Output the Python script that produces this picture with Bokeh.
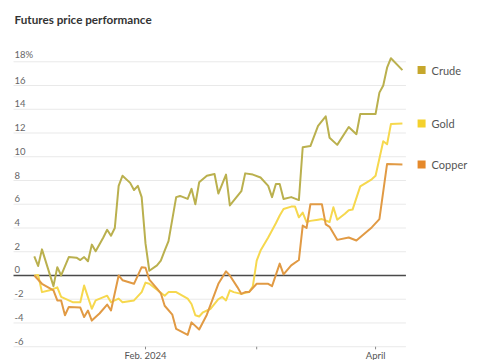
import pandas as pd
from bokeh.plotting import figure
from bokeh.models import Range1d
from bokeh.core.properties import value
from bokeh.embed import file_html
from bokeh.resources import INLINE

# ---------------- data ----------------
title_text = "Futures price performance"
series_names = ["Crude", "Gold", "Copper"]

crude_dates = ["2024-01-03", "2024-01-04", "2024-01-05", "2024-01-08", "2024-01-09", "2024-01-10",
               "2024-01-12", "2024-01-14", "2024-01-15", "2024-01-16", "2024-01-17", "2024-01-18",
               "2024-01-19", "2024-01-21", "2024-01-22", "2024-01-23", "2024-01-24", "2024-01-25",
               "2024-01-26", "2024-01-28", "2024-01-29", "2024-01-30", "2024-01-31", "2024-02-01",
               "2024-02-02", "2024-02-04", "2024-02-05", "2024-02-06", "2024-02-07", "2024-02-09",
               "2024-02-10", "2024-02-12", "2024-02-13", "2024-02-14", "2024-02-15", "2024-02-17",
               "2024-02-19", "2024-02-20", "2024-02-22", "2024-02-23", "2024-02-26", "2024-02-27",
               "2024-02-29", "2024-03-02", "2024-03-04", "2024-03-05", "2024-03-06", "2024-03-07",
               "2024-03-08", "2024-03-10", "2024-03-12", "2024-03-13", "2024-03-15", "2024-03-17",
               "2024-03-19", "2024-03-20", "2024-03-22", "2024-03-25", "2024-03-27", "2024-03-28",
               "2024-04-01", "2024-04-02", "2024-04-03", "2024-04-04", "2024-04-05", "2024-04-08"]
crude_values = [1.6, 0.8, 2.2, -0.9, 0.7, 0.0,
                1.55, 1.5, 1.3, 1.55, 1.2, 2.6,
                2.05, 3.2, 3.85, 3.35, 4.0, 7.55,
                8.4, 7.8, 7.2, 7.55, 6.6, 2.7,
                0.4, 0.85, 1.25, 2.1, 2.9, 6.6,
                6.7, 6.45, 7.3, 6.0, 7.85, 8.4,
                8.55, 6.9, 8.5, 5.9, 7.1, 8.6,
                8.5, 8.25, 7.55, 6.6, 7.7, 7.7,
                6.45, 6.6, 6.35, 10.8, 10.9, 12.6,
                13.4, 11.6, 11.0, 12.5, 11.9, 13.6,
                13.6, 15.4, 16.0, 17.5, 18.3, 17.3]

gold_dates = ["2024-01-03", "2024-01-04", "2024-01-05", "2024-01-07", "2024-01-09", "2024-01-10",
              "2024-01-13", "2024-01-15", "2024-01-16", "2024-01-18", "2024-01-19", "2024-01-22",
              "2024-01-23", "2024-01-25", "2024-01-26", "2024-01-29", "2024-01-31", "2024-02-01",
              "2024-02-02", "2024-02-04", "2024-02-06", "2024-02-07", "2024-02-09", "2024-02-12",
              "2024-02-13", "2024-02-14", "2024-02-15", "2024-02-16", "2024-02-18", "2024-02-20",
              "2024-02-21", "2024-02-22", "2024-02-23", "2024-02-24", "2024-02-26", "2024-02-28",
              "2024-02-29", "2024-03-01", "2024-03-02", "2024-03-04", "2024-03-06", "2024-03-07",
              "2024-03-08", "2024-03-10", "2024-03-11", "2024-03-12", "2024-03-13", "2024-03-14",
              "2024-03-15", "2024-03-17", "2024-03-18", "2024-03-20", "2024-03-21", "2024-03-22",
              "2024-03-24", "2024-03-25", "2024-03-26", "2024-03-28", "2024-03-31", "2024-04-01",
              "2024-04-03", "2024-04-04", "2024-04-05", "2024-04-08"]
gold_values = [0.0, 0.05, -1.4, -1.25, -1.0, -1.8,
               -2.25, -2.25, -0.85, -2.8, -2.1, -1.7,
               -2.25, -1.95, -2.25, -2.1, -1.4, -0.6,
               -0.7, -1.2, -1.7, -1.4, -1.4, -1.95,
               -2.4, -3.35, -3.45, -3.1, -2.8, -2.0,
               -1.8, -2.1, -1.25, -1.4, -1.55, -1.4,
               -0.9, 1.25, 2.1, 3.2, 4.4, 5.05,
               5.6, 5.8, 5.8, 4.9, 5.3, 4.5,
               4.6, 4.7, 4.75, 4.5, 5.75, 4.7,
               5.2, 5.5, 5.55, 7.5, 8.1, 8.4,
               11.3, 11.05, 12.75, 12.8]

copper_dates = ["2024-01-03", "2024-01-05", "2024-01-08", "2024-01-09", "2024-01-10", "2024-01-11",
                "2024-01-12", "2024-01-15", "2024-01-16", "2024-01-17", "2024-01-18", "2024-01-20",
                "2024-01-22", "2024-01-23", "2024-01-25", "2024-01-26", "2024-01-29", "2024-01-31",
                "2024-02-01", "2024-02-02", "2024-02-04", "2024-02-05", "2024-02-06", "2024-02-08",
                "2024-02-09", "2024-02-12", "2024-02-13", "2024-02-15", "2024-02-17", "2024-02-20",
                "2024-02-22", "2024-02-23", "2024-02-25", "2024-02-26", "2024-02-27", "2024-02-28",
                "2024-03-01", "2024-03-04", "2024-03-05", "2024-03-07", "2024-03-08", "2024-03-10",
                "2024-03-12", "2024-03-13", "2024-03-14", "2024-03-15", "2024-03-18", "2024-03-19",
                "2024-03-20", "2024-03-22", "2024-03-25", "2024-03-27", "2024-03-31", "2024-04-02",
                "2024-04-04", "2024-04-08"]
copper_values = [0.0, -0.7, -1.25, -2.1, -2.1, -3.35,
                 -2.65, -2.7, -3.5, -2.95, -3.8, -3.2,
                 -2.45, -2.95, 0.0, -0.4, -0.7, 0.7,
                 0.65, -0.35, -1.1, -1.5, -2.55, -3.3,
                 -4.5, -5.0, -3.95, -4.55, -3.3, -0.7,
                 0.35, 0.0, -1.0, -1.55, -1.4, -1.4,
                 -0.7, -0.7, -0.9, 1.0, 0.1, 0.85,
                 1.3, 4.2, 4.0, 6.0, 6.0, 4.3,
                 4.1, 3.0, 3.2, 2.95, 4.05, 4.75,
                 9.4, 9.35]

y_ticks = [-6, -4, -2, 0, 2, 4, 6, 8, 10, 12, 14, 16, 18]
y_tick_labels = ["-6", "-4", "-2", "0", "2", "4", "6", "8", "10", "12", "14", "16", "18%"]
x_tick_dates = ["2024-02-01", "2024-03-01", "2024-04-01"]
x_tick_labels = ["Feb. 2024", "", "April"]

# ---------------- styling / layout ----------------
line_colors = ["#bab04e", "#f6d84e", "#e19a44"]
legend_colors = ["#c6a72c", "#f4d12c", "#e5892b"]
FONT = "Lato"

x_start = pd.Timestamp("2023-12-25 04:30")
x_end = pd.Timestamp("2024-04-29 16:00")
grid_x0 = pd.Timestamp("2023-12-28 14:00")
grid_x1 = pd.Timestamp("2024-04-08 22:00")
legend_x = pd.Timestamp("2024-04-13 00:00")
y_lo, y_hi = -7.16, 23.16
title_y = 21.64

p = figure(width=485, height=360, x_axis_type="datetime",
           x_range=Range1d(x_start, x_end), y_range=Range1d(y_lo, y_hi),
           x_axis_location=None, y_axis_location=None,
           min_border=0, output_backend="svg", toolbar_location=None)
p.grid.visible = False
p.outline_line_color = None
p.background_fill_color = "white"
p.border_fill_color = "white"

# gridlines
grid_vals = [t for t in y_ticks if t != 0]
p.segment(x0=[grid_x0] * len(grid_vals), x1=[grid_x1] * len(grid_vals),
          y0=grid_vals, y1=grid_vals, line_color="#e9e9e9", line_width=1)
# zero line
p.segment(x0=[grid_x0], x1=[grid_x1], y0=[0], y1=[0], line_color="#4a4a4a", line_width=1.3)

# y tick labels (above gridlines)
p.text(x=[grid_x0] * len(y_ticks), y=y_ticks, text=y_tick_labels,
       x_offset=1, y_offset=-2, text_baseline="bottom", text_align="left",
       text_font=value(FONT), text_font_size="9.5px", text_color="#666666")

# x ticks and labels
xt = [pd.Timestamp(d) for d in x_tick_dates]
p.segment(x0=xt, x1=xt, y0=[y_ticks[0]] * 3, y1=[y_ticks[0] - 0.22] * 3,
          line_color="#888888", line_width=1)
p.text(x=xt, y=[y_ticks[0]] * 3, text=x_tick_labels, y_offset=3,
       text_baseline="top", text_align="center",
       text_font=value(FONT), text_font_size="9.5px", text_color="#555555")

# series lines
all_dates = [crude_dates, gold_dates, copper_dates]
all_values = [crude_values, gold_values, copper_values]
for idx in [1, 2, 0]:
    p.line(x=pd.to_datetime(all_dates[idx]), y=all_values[idx],
           line_color=line_colors[idx], line_width=2, line_join="round")

# legend at series end values
ends = [v[-1] for v in all_values]
p.scatter(x=[legend_x] * 3, y=ends, marker="square", size=8,
          fill_color=legend_colors, line_color=None)
p.text(x=[legend_x] * 3, y=ends, text=series_names, x_offset=10,
       text_baseline="middle", text_align="left",
       text_font=value(FONT), text_font_size="11px", text_color="#555555")

# title
p.text(x=[x_start], y=[title_y], text=[title_text], x_offset=14,
       text_baseline="middle", text_align="left", text_font=value(FONT),
       text_font_style="bold", text_font_size="11.7px", text_color="#333333")

open("out.html", "w").write(file_html(p, INLINE))
